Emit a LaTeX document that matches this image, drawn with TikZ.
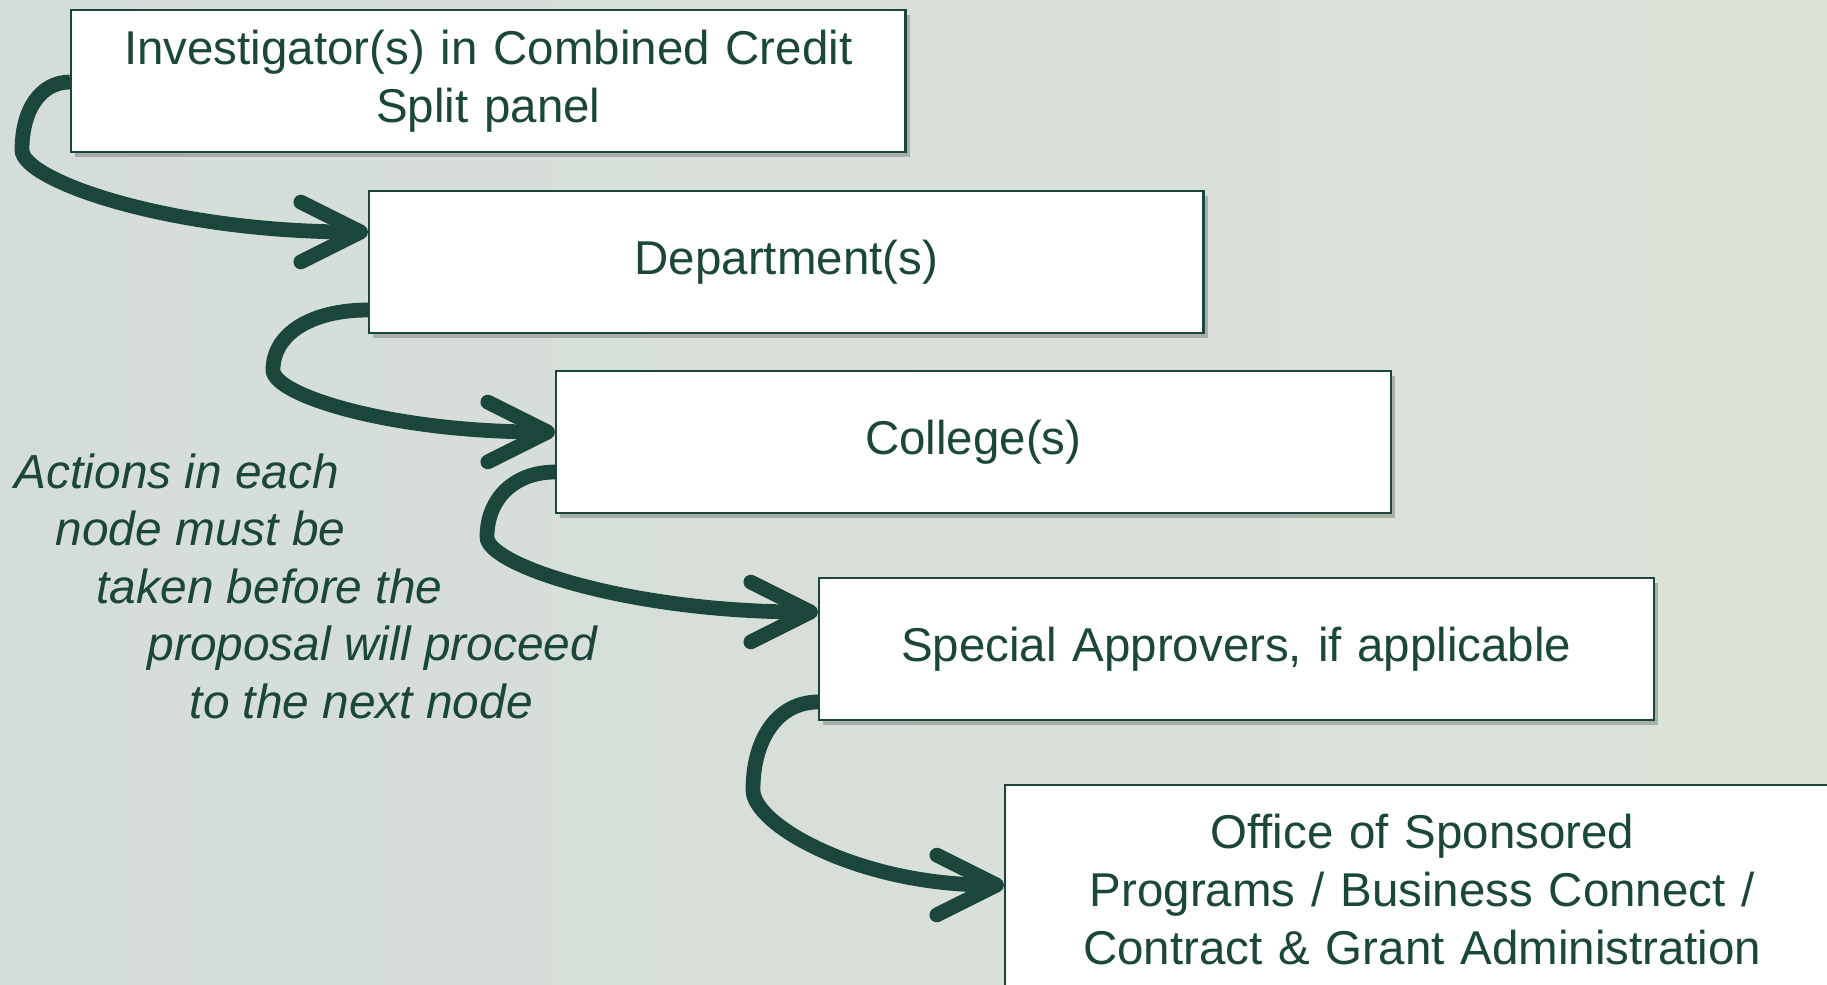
\documentclass[tikz,border=0pt]{standalone}
\usepackage{fontspec}
\setmainfont{Liberation Sans}
\usepackage{tikz}
\usetikzlibrary{arrows.meta,calc,shadows}
\definecolor{ProcGreen}{HTML}{1A463B}
\definecolor{ProcBgLeft}{HTML}{D5DDDA}
\definecolor{ProcBgMid}{HTML}{E3E9E6}
\definecolor{ProcBgRight}{HTML}{DCE2D8}
\tikzset{
  stage/.style={
    draw=ProcGreen,
    fill=white,
    line width=.6pt,
    text=ProcGreen,
    minimum width=8.34cm,
    minimum height=1.42cm,
    text width=8.34cm,
    inner sep=0pt,
    align=center,
    font=\fontsize{13.5}{16.5}\selectfont,
    anchor=north west,
    drop shadow={shadow xshift=1.2pt,shadow yshift=-1.5pt,opacity=.22,fill=black}
  },
  route/.style={-{Straight Barb[length=17pt,width=17pt,round]},draw=ProcGreen,line width=4.2pt},
  note/.style={font=\fontsize{13.6}{16.5}\selectfont\itshape,text=ProcGreen,anchor=base west,inner sep=0pt}
}

\begin{document}
\begin{tikzpicture}[x=.01cm,y=-.01cm]
  % Page background, one pixel per unit, y pointing down.
  \clip (0,0) rectangle (1827,984);
  \shade[left color=ProcBgLeft,middle color=ProcBgMid,right color=ProcBgRight] (0,0) rectangle (1827,984);

  % Approval stages, stepping down to the right.
  \node[stage] (inv) at (70,9) {Investigator(s) in Combined Credit\\Split panel};
  \node[stage] (dept) at (368,190) {Department(s)};
  \node[stage] (college) at (555,370) {College(s)};
  \node[stage] (special) at (818,577) {Special Approvers, if applicable};
  \node[stage,minimum height=2.08cm] (osp) at (1004,784)
    {Office of Sponsored\\Programs / Business Connect /\\Contract \& Grant Administration};

  % Hooked connectors: leave each box to the left, swing under it, enter the next one.
  \draw[route] ($(inv.north west)+(0,73)$) .. controls +(-29,0) and +(0,-41) .. ++(-48,68)
    .. controls +(0,30) and +(-200,0) .. ($(dept.north west)+(0,42)$);
  \draw[route] ($(dept.north west)+(0,120)$) .. controls +(-57,0) and +(0,-36) .. ++(-95,60)
    .. controls +(0,25) and +(-165,0) .. ($(college.north west)+(0,62)$);
  \draw[route] ($(college.north west)+(0,102)$) .. controls +(-40,0) and +(0,-39) .. ++(-68,65)
    .. controls +(0,28) and +(-190,0) .. ($(special.north west)+(0,35)$);
  \draw[route] ($(special.north west)+(0,125)$) .. controls +(-39,0) and +(0,-53) .. ++(-65,88)
    .. controls +(0,35) and +(-145,0) .. ($(osp.north west)+(0,101)$);

  % Side remark, indented line by line.
  \foreach \x/\y/\t [count=\i] in {14/488/Actions in each,55/545/node must be,
    96/603/taken before the,147/660/proposal will proceed,189/718/to the next node}
    \node[note] (note\i) at (\x,\y) {\t};
\end{tikzpicture}
\end{document}
